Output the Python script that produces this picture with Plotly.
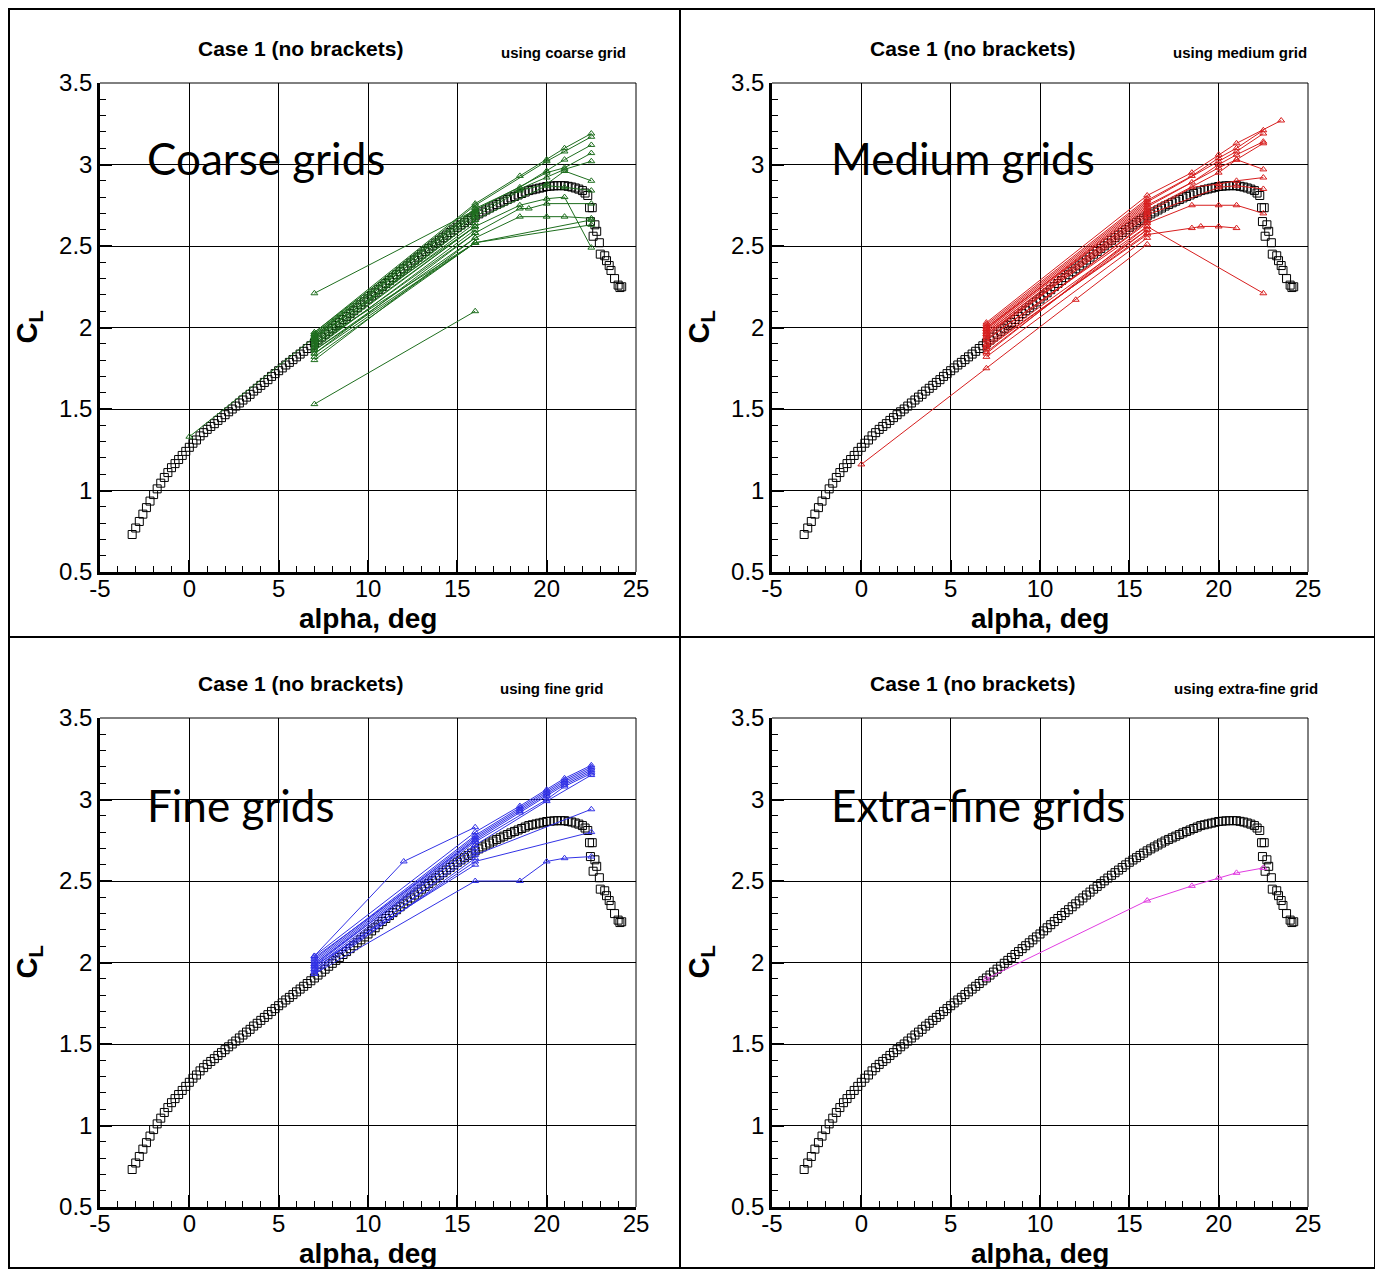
import plotly.graph_objects as go

# page is 1383x1277; the html body keeps its 8px margin, so the figure is 16px smaller
PAGE_W, PAGE_H = 1383, 1277
OFF = 8
W, H = PAGE_W - 2 * OFF, PAGE_H - 2 * OFF

# ---------------- experimental data (black squares) ----------------
EXP_ALPHA = [-3.2, -3.0, -2.8, -2.6, -2.4, -2.2, -2.0, -1.8, -1.6, -1.4, -1.2, -1.0, -0.8, -0.6, -0.4, -0.2,
             0.0, 0.2, 0.4, 0.6, 0.8, 1.0, 1.2, 1.4, 1.6, 1.8, 2.0, 2.2, 2.4, 2.6, 2.8, 3.0, 3.2, 3.4, 3.6, 3.8,
             4.0, 4.2, 4.4, 4.6, 4.8, 5.0, 5.2, 5.4, 5.6, 5.8, 6.0, 6.2, 6.4, 6.6, 6.8, 7.0, 7.2, 7.4, 7.6, 7.8,
             8.0, 8.2, 8.4, 8.6, 8.8, 9.0, 9.2, 9.4, 9.6, 9.8, 10.0, 10.2, 10.4, 10.6, 10.8, 11.0, 11.2, 11.4,
             11.6, 11.8, 12.0, 12.2, 12.4, 12.6, 12.8, 13.0, 13.2, 13.4, 13.6, 13.8, 14.0, 14.2, 14.4, 14.6,
             14.8, 15.0, 15.2, 15.4, 15.6, 15.8, 16.0, 16.2, 16.4, 16.6, 16.8, 17.0, 17.2, 17.4, 17.6, 17.8,
             18.0, 18.2, 18.4, 18.6, 18.8, 19.0, 19.2, 19.4, 19.6, 19.8, 20.0, 20.2, 20.4, 20.6, 20.8, 21.0,
             21.2, 21.4, 21.6, 21.8, 22.0, 22.15, 22.3,
             22.4, 22.55, 22.45, 22.7, 22.8, 22.6, 22.95, 23.0, 23.25, 23.35, 23.5, 23.6, 23.8, 24.0, 24.2, 24.1]
EXP_CL = [0.73, 0.77, 0.81, 0.855, 0.895, 0.935, 0.975, 1.01, 1.045, 1.08, 1.11, 1.14, 1.165, 1.19, 1.215, 1.24,
          1.265, 1.29, 1.31, 1.335, 1.355, 1.375, 1.393, 1.41, 1.43, 1.447, 1.465, 1.483, 1.50, 1.518, 1.537,
          1.555, 1.573, 1.59, 1.61, 1.627, 1.645, 1.663, 1.68, 1.70, 1.717, 1.735, 1.752, 1.77, 1.786, 1.803,
          1.82, 1.837, 1.854, 1.871, 1.888, 1.905, 1.923, 1.941, 1.959, 1.977, 1.995, 2.013, 2.031, 2.049,
          2.067, 2.085, 2.103, 2.121, 2.139, 2.157, 2.175, 2.194, 2.213, 2.232, 2.251, 2.27, 2.288, 2.306,
          2.324, 2.342, 2.36, 2.378, 2.396, 2.414, 2.432, 2.45, 2.467, 2.484, 2.501, 2.518, 2.535, 2.551,
          2.567, 2.583, 2.599, 2.615, 2.629, 2.643, 2.657, 2.671, 2.685, 2.697, 2.709, 2.721, 2.733, 2.745,
          2.755, 2.765, 2.775, 2.785, 2.795, 2.804, 2.813, 2.822, 2.831, 2.84, 2.845, 2.85, 2.855, 2.86,
          2.865, 2.867, 2.869, 2.87, 2.87, 2.87, 2.866, 2.862, 2.856, 2.849, 2.84, 2.825, 2.81,
          2.735, 2.735, 2.65, 2.63, 2.59, 2.56, 2.52, 2.45, 2.44, 2.41, 2.38, 2.35, 2.30, 2.26, 2.25, 2.245]

# ---------------- CFD results (one list per participant) ----------------
COARSE_ALPHA = [
    [7, 16, 18.5, 20, 21, 22.5], [7, 16, 20, 21, 22.5], [7, 16, 18.5, 20, 21, 22.5], [7, 16, 20, 21, 22.5],
    [7, 16, 18.5, 20, 21, 22.5], [7, 16, 18.5, 20, 21, 22.5], [7, 16, 18.5, 20, 21, 22.5],
    [7, 16, 18.5, 19, 20, 22.5], [7, 16, 18.5, 20, 21, 22.5], [7, 16, 22.5], [7, 16, 22.5],
    [7, 16, 20, 21, 22.5],
    [7, 16], [7, 16], [7, 16], [7, 16], [7, 16], [7, 16], [7, 16], [7, 16], [7, 16], [7, 16], [7, 16],
    [7, 16], [7, 16], [7, 16], [0, 7]]
COARSE_CL = [
    [1.97, 2.76, 2.93, 3.03, 3.10, 3.19], [1.96, 2.75, 3.02, 3.08, 3.17], [1.95, 2.73, 2.86, 2.96, 3.03, 3.12],
    [1.94, 2.72, 2.95, 2.98, 3.07], [1.93, 2.70, 2.85, 2.92, 2.97, 3.02], [1.92, 2.68, 2.84, 2.88, 2.96, 2.90],
    [1.90, 2.62, 2.75, 2.79, 2.80, 2.49], [1.88, 2.58, 2.73, 2.73, 2.76, 2.76],
    [1.86, 2.55, 2.68, 2.68, 2.68, 2.67], [1.84, 2.52, 2.66], [1.82, 2.52, 2.63],
    [1.91, 2.66, 2.87, 2.86, 2.84],
    [1.80, 2.55], [1.84, 2.58], [1.87, 2.60], [1.89, 2.62], [1.91, 2.64], [1.93, 2.66], [1.95, 2.69],
    [1.96, 2.71], [1.97, 2.73], [1.90, 2.52], [1.86, 2.52], [1.94, 2.62], [2.21, 2.72], [1.53, 2.10],
    [1.33, 1.94]]

MEDIUM_ALPHA = [
    [7, 16, 18.5, 20, 21, 23.5], [7, 16, 18.5, 20, 21, 22.5], [7, 16, 20, 21, 22.5], [7, 16, 18.5, 20, 21, 22.5],
    [7, 16, 20, 21, 22.5], [7, 16, 20, 21, 22.5], [7, 16, 18.5, 20, 21, 22.5], [7, 16, 20, 21, 22.5],
    [7, 16, 18.5, 20, 21, 22.5], [7, 16, 18.5, 19, 20, 21], [7, 16, 22.5], [0, 7, 12, 16],
    [7, 16], [7, 16], [7, 16], [7, 16], [7, 16], [7, 16], [7, 16], [7, 16], [7, 16], [7, 16], [7, 16], [7, 16]]
MEDIUM_CL = [
    [2.03, 2.81, 2.95, 3.06, 3.13, 3.27], [2.01, 2.78, 2.93, 3.04, 3.10, 3.21], [2.00, 2.77, 3.02, 3.08, 3.19],
    [1.99, 2.75, 2.89, 3.00, 3.06, 3.14], [1.98, 2.74, 2.98, 3.03, 3.13], [1.97, 2.72, 2.95, 3.03, 2.97],
    [1.96, 2.70, 2.86, 2.88, 2.90, 2.92], [1.95, 2.69, 2.86, 2.87, 2.85],
    [1.92, 2.64, 2.75, 2.75, 2.75, 2.70], [1.88, 2.57, 2.61, 2.62, 2.62, 2.61], [1.93, 2.62, 2.21],
    [1.16, 1.75, 2.17, 2.51],
    [1.82, 2.55], [1.85, 2.60], [1.87, 2.58], [1.90, 2.65], [1.94, 2.68], [1.97, 2.71], [2.00, 2.73],
    [1.99, 2.76], [2.02, 2.79], [1.84, 2.62], [1.89, 2.60], [1.96, 2.66]]

FINE_ALPHA = [
    [7, 16, 18.5, 20, 21, 22.5], [7, 16, 18.5, 20, 21, 22.5], [7, 16, 18.5, 20, 21, 22.5],
    [7, 16, 18.5, 20, 21, 22.5], [7, 16, 18.5, 20, 21, 22.5], [7, 16, 20, 21, 22.5], [7, 16, 20, 22.5],
    [7, 12, 16], [7, 16, 22.5], [7, 16, 22.5], [7, 16, 18.5, 20, 21, 22.5],
    [7, 16], [7, 16], [7, 16], [7, 16], [7, 16], [7, 16]]
FINE_CL = [
    [2.04, 2.80, 2.96, 3.06, 3.13, 3.21], [2.02, 2.78, 2.95, 3.05, 3.12, 3.20], [2.01, 2.77, 2.94, 3.04, 3.11, 3.19],
    [2.00, 2.76, 2.93, 3.03, 3.10, 3.18], [1.99, 2.75, 2.92, 3.02, 3.09, 3.17], [1.98, 2.74, 3.00, 3.08, 3.16],
    [1.97, 2.72, 2.99, 3.15], [2.04, 2.62, 2.83], [1.96, 2.66, 2.94], [1.95, 2.62, 2.80],
    [1.93, 2.50, 2.50, 2.62, 2.64, 2.65],
    [1.94, 2.68], [1.96, 2.70], [1.99, 2.72], [2.03, 2.75], [1.93, 2.64], [1.98, 2.60]]

XFINE_ALPHA = [[7, 16, 18.5, 20, 21, 22.5]]
XFINE_CL = [[1.90, 2.38, 2.47, 2.52, 2.55, 2.58]]

PANELS = [
    dict(name="Coarse grids", sub="using coarse grid", alpha=COARSE_ALPHA, cl=COARSE_CL, color="rgb(30,110,30)"),
    dict(name="Medium grids", sub="using medium grid", alpha=MEDIUM_ALPHA, cl=MEDIUM_CL, color="rgb(215,30,30)"),
    dict(name="Fine grids", sub="using fine grid", alpha=FINE_ALPHA, cl=FINE_CL, color="rgb(50,50,230)"),
    dict(name="Extra-fine grids", sub="using extra-fine grid", alpha=XFINE_ALPHA, cl=XFINE_CL,
         color="rgb(225,60,225)"),
]
TITLE = "Case 1 (no brackets)"
X_TICKS = [-5, 0, 5, 10, 15, 20, 25]
Y_TICKS = [0.5, 1, 1.5, 2, 2.5, 3, 3.5]
Y_TICKTEXT = ["0.5", "1", "1.5", "2", "2.5", "3", "3.5"]

# page-pixel layout of the four plot areas (left, right, top, bottom)
AREAS = [(100, 636, 83, 572), (772, 1308, 83, 572), (100, 636, 718, 1207), (772, 1308, 718, 1207)]
TITLE_POS = [(300, 48), (972, 48), (300, 683), (972, 683)]
SUB_POS = [(628, 53), (1309, 53), (605, 688), (1320, 688)]
BIG_POS = [(145, 158), (829, 158), (145, 805), (829, 805)]


def px(x):
    return (x - OFF) / W


def py(y):
    return 1 - (y - OFF) / H


fig = go.Figure()
annotations = []
shapes = []
layout = {}
FONT = "Liberation Sans, Arial, sans-serif"

for i, p in enumerate(PANELS):
    k = "" if i == 0 else str(i + 1)
    xa, ya = "x" + k, "y" + k
    l, r, t, b = AREAS[i]
    fig.add_trace(go.Scatter(
        x=EXP_ALPHA, y=EXP_CL, mode="markers", xaxis=xa, yaxis=ya, showlegend=False,
        marker=dict(symbol="square-open", size=8, color="black", line=dict(width=1, color="black"))))
    for a, c in zip(p["alpha"], p["cl"]):
        fig.add_trace(go.Scatter(
            x=a, y=c, mode="lines+markers", xaxis=xa, yaxis=ya, showlegend=False,
            line=dict(color=p["color"], width=1),
            marker=dict(symbol="triangle-up-open", size=6, color=p["color"],
                        line=dict(width=1, color=p["color"]))))
    common = dict(showgrid=True, gridcolor="black", gridwidth=1, zeroline=False, showline=True,
                  linecolor="black", linewidth=2.5, ticks="inside", ticklen=12, tickwidth=1.5,
                  tickcolor="black", automargin=False, tickfont=dict(family=FONT, size=24, color="black"))
    layout["xaxis" + k] = dict(common, domain=[px(l), px(r)], range=[-5, 25], tickvals=X_TICKS,
                               ticktext=[str(v) for v in X_TICKS], anchor=ya, ticklabelstandoff=-7,
                               minor=dict(ticks="inside", ticklen=6, dtick=1, tickcolor="black",
                                          tickwidth=1, showgrid=False))
    layout["yaxis" + k] = dict(common, domain=[py(b), py(t)], range=[0.5, 3.5], tickvals=Y_TICKS,
                               ticktext=Y_TICKTEXT, anchor=xa,
                               minor=dict(ticks="inside", ticklen=6, dtick=0.1, tickcolor="black",
                                          tickwidth=1, showgrid=False))
    shapes.append(dict(type="line", xref="paper", yref="paper", x0=px(l), x1=px(r), y0=py(t), y1=py(t),
                       line=dict(color="black", width=1)))
    shapes.append(dict(type="line", xref="paper", yref="paper", x0=px(r), x1=px(r), y0=py(t), y1=py(b),
                       line=dict(color="black", width=1)))
    tx, ty = TITLE_POS[i]
    annotations.append(dict(text="<b>" + TITLE + "</b>", x=px(tx), y=py(ty), xref="paper", yref="paper",
                            xanchor="center", yanchor="middle", showarrow=False,
                            font=dict(family=FONT, size=21, color="black")))
    sx, sy = SUB_POS[i]
    annotations.append(dict(text="<b>" + p["sub"] + "</b>", x=px(sx), y=py(sy), xref="paper", yref="paper",
                            xanchor="right", yanchor="middle", showarrow=False,
                            font=dict(family=FONT, size=15, color="black")))
    bx, by = BIG_POS[i]
    annotations.append(dict(text=p["name"], x=px(bx), y=py(by), xref="paper", yref="paper",
                            xanchor="left", yanchor="middle", showarrow=False,
                            font=dict(family="Lato, Carlito, sans-serif", size=44, color="black")))
    annotations.append(dict(text="<b>alpha, deg</b>", x=px((l + r) / 2), y=py(b + 46), xref="paper",
                            yref="paper", xanchor="center", yanchor="middle", showarrow=False,
                            font=dict(family=FONT, size=28, color="black")))
    annotations.append(dict(text="<b>C<sub>L</sub></b>", x=px(l - 72), y=py((t + b) / 2), xref="paper",
                            yref="paper", xanchor="center", yanchor="middle", showarrow=False, textangle=-90,
                            font=dict(family=FONT, size=29, color="black")))

# panel borders
shapes.append(dict(type="rect", xref="paper", yref="paper", x0=px(9), x1=px(1375), y0=py(9), y1=py(1268),
                   line=dict(color="black", width=2)))
shapes.append(dict(type="line", xref="paper", yref="paper", x0=px(680), x1=px(680), y0=py(9), y1=py(1268),
                   line=dict(color="black", width=2)))
shapes.append(dict(type="line", xref="paper", yref="paper", x0=px(9), x1=px(1375), y0=py(637), y1=py(637),
                   line=dict(color="black", width=2)))

fig.update_layout(width=W, height=H, autosize=False, margin=dict(l=0, r=0, t=0, b=0, pad=0, autoexpand=False),
                  paper_bgcolor="white", plot_bgcolor="white", annotations=annotations, shapes=shapes,
                  showlegend=False, **layout)

fig.write_html("out.html", config={"displayModeBar": False})
